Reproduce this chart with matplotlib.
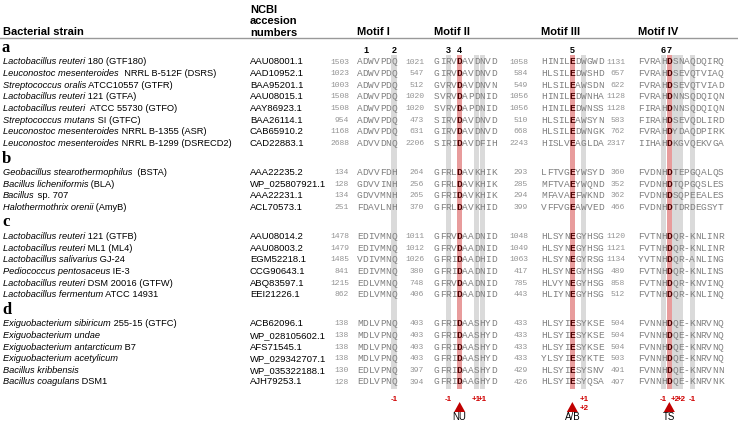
import numpy as np
import matplotlib.pyplot as plt

# ---- data -------------------------------------------------------------
group_labels = ['a', 'b', 'c', 'd']
group_sizes = [8, 4, 6, 6]

species = [
    'Lactobacillus reuteri', 'Leuconostoc mesenteroides', 'Streptococcus oralis',
    'Lactobacillus reuteri', 'Lactobacillus reuteri', 'Streptococcus mutans',
    'Leuconostoc mesenteroides', 'Leuconostoc mesenteroides',
    'Geobacillus stearothermophilus', 'Bacillus licheniformis', 'Bacillus',
    'Halothermothrix orenii',
    'Lactobacillus reuteri', 'Lactobacillus reuteri', 'Lactobacillus salivarius',
    'Pediococcus pentosaceus', 'Lactobacillus reuteri', 'Lactobacillus fermentum',
    'Exiguobacterium sibiricum', 'Exiguobacterium undae', 'Exiguobacterium antarcticum',
    'Exiguobacterium acetylicum', 'Bacillus kribbensis', 'Bacillus coagulans',
]
strains = [
    ' 180 (GTF180)', '  NRRL B-512F (DSRS)', ' ATCC10557 (GTFR)', ' 121 (GTFA)',
    '  ATCC 55730 (GTFO)', ' SI (GTFC)', ' NRRL B-1355 (ASR)', ' NRRL B-1299 (DSRECD2)',
    '  (BSTA)', ' (BLA)', ' sp. 707', ' (AmyB)',
    ' 121 (GTFB)', ' ML1 (ML4)', ' GJ-24', ' IE-3', ' DSM 20016 (GTFW)', ' ATCC 14931',
    ' 255-15 (GTFC)', '', ' B7', '', '', ' DSM1',
]
accessions = [
    'AAU08001.1', 'AAD10952.1', 'BAA95201.1', 'AAU08015.1', 'AAY86923.1',
    'BAA26114.1', 'CAB65910.2', 'CAD22883.1',
    'AAA22235.2', 'WP_025807921.1', 'AAA22231.1', 'ACL70573.1',
    'AAU08014.2', 'AAU08003.2', 'EGM52218.1', 'CCG90643.1', 'ABQ83597.1', 'EEI21226.1',
    'ACB62096.1', 'WP_028105602.1', 'AFS71545.1', 'WP_029342707.1', 'WP_035322188.1',
    'AJH79253.1',
]

start_I = [1503, 1023, 1003, 1508, 1508, 954, 1168, 2688, 134, 128, 134, 251,
           1478, 1479, 1485, 841, 1215, 862, 138, 138, 138, 138, 130, 128]
seq_I = ['ADWVPDQ', 'ADWVPDQ', 'ADWVPDQ', 'ADWVPDQ', 'ADWVPDQ', 'ADWVPDQ', 'ADWVPDQ',
         'ADVVDNQ', 'ADVVFDH', 'GDVVINH', 'GDVVMNH', 'FDAVLNH',
         'EDIVMNQ', 'EDIVMNQ', 'VDIVMNQ', 'EDIVMNQ', 'EDLVMNQ', 'EDLVMNQ',
         'MDLVPNQ', 'MDLVPNQ', 'MDLVPNQ', 'MDLVPNQ', 'EDLVPNQ', 'EDLVPNQ']

start_II = [1021, 547, 512, 1020, 1020, 473, 631, 2206, 264, 256, 265, 370,
            1011, 1012, 1026, 380, 748, 406, 403, 403, 403, 403, 397, 394]
seq_II = ['GIRVDAVDNVD', 'GIRVDAVDNVD', 'GVRVDAVDNVN', 'SVRVDAPDNID', 'SVRVDAPDNID',
          'SIRVDAVDNVD', 'GIRVDAVDNVD', 'SIRIDAVDFIH',
          'GFRLDAVKHIK', 'GFRLDAVKHIK', 'GFRIDAVKHIK', 'GFRLDAVKHID',
          'GFRVDAADNID', 'GFRVDAADNID', 'GFRIDAADHID', 'GFRIDAADNID', 'GFRVDAADNID',
          'GFRIDAADNID',
          'GFRIDAASHYD', 'GFRIDAASHYD', 'GFRIDAASHYD', 'GFRIDAASHYD', 'GFRIDAASHYD',
          'GFRIDAAGHYD']

start_III = [1058, 584, 549, 1056, 1056, 510, 668, 2243, 293, 285, 294, 399,
             1048, 1049, 1063, 417, 785, 443, 433, 433, 433, 433, 429, 426]
seq_III = ['HINILEDWGWD', 'HLSILEDWSHD', 'HLSILEAWSDN', 'HINILEDWNHA', 'HINILEDWNSS',
           'HLSILEAWSYN', 'HLSILEDWNGK', 'HISLVEAGLDA',
           'LFTVGEYWSYD', 'MFTVAEYWQND', 'MFAVAEFWKND', 'VFFVGEAWVED',
           'HLSYNEGYHSG', 'HLSYNEGYHSG', 'HLSYNEGYRSG', 'HLSYNEGYHSG', 'HLVYNEGYHSG',
           'HLIYNEGYHSG',
           'HLSYIESYKSE', 'HLSYIESYKSE', 'HLSYIESYKSE', 'YLSYIESYKTE', 'HLSYIESYSNV',
           'HLSYIESYQSA']

start_IV = [1131, 657, 622, 1128, 1128, 583, 762, 2317, 360, 352, 362, 466,
            1120, 1121, 1134, 489, 858, 512, 504, 504, 504, 503, 491, 497]
seq_IV = ['FVRAHDSNAQDQIRQ', 'FVRAHDSEVQTVIAQ', 'FVRAHDSEVQTVIAD', 'FVRAHDNNSQDQIQN',
          'FIRAHDNNSQDQIQN', 'FIRAHDSEVQDLIRD', 'FVRAHDYDAQDPIRK', 'IIHAHDKGVQEKVGA',
          'FVDNHDTEPGQALQS', 'FVDNHDTQPGQSLES', 'FVDNHDSQPEEALES', 'FVDNHDTDRDEGSYT',
          'FVTNHDQR-KNLINR', 'FVTNHDQR-KNLINR', 'YVTNHDQR-ANLING', 'FVTNHDQR-KNLINS',
          'FVTNHDQR-KNVINQ', 'FVTNHDQR-KNLINQ',
          'FVNNHDQE-KNRVNQ', 'FVNNHDQE-KNRVNQ', 'FVNNHDQE-KNRVNQ', 'FVNNHDQE-KNRVNQ',
          'FVNNHDQE-KNRVNN', 'FVNNHDQE-KNRVNK']

motif_names = ['Motif I', 'Motif II', 'Motif III', 'Motif IV']
gray_cols = [[6], [2, 7, 8], [7], [4, 6, 7, 9]]
red_cols = [[], [4], [5], [5]]
site_numbers = [[('1', 1), ('2', 6)], [('3', 2), ('4', 4)], [('5', 5)], [('6', 4), ('7', 5)]]
shift_labels = [[('-1', 6, 0)], [('-1', 2, 0), ('+1', 7, 0), ('+1', 8, 0)],
                [('+1', 7, 0), ('+2', 7, 1)],
                [('-1', 4, 0), ('+2', 6, 0), ('+2', 7, 0), ('-1', 9, 0)]]
site_names = ['', 'NU', 'A/B', 'TS']

# ---- layout -------------------------------------------------------------
motif_x = [357, 434, 541, 638]
num_right = [349, 424, 528, 625]
cw = 5.7
sans = 'Liberation Sans'
mono = 'Liberation Mono'

fig = plt.figure(figsize=(7.38, 4.22), dpi=100)
ax = fig.add_axes([0, 0, 1, 1])
ax.set_xlim(0, 738)
ax.set_ylim(422, 0)
ax.axis('off')
renderer = fig.canvas.get_renderer()

row_y = []
letter_y = []
y = 48
for g, n in enumerate(group_sizes):
    if g > 0:
        y = row_y[-1] + 15
    letter_y.append(y)
    y += 14
    for i in range(n):
        row_y.append(y + i * 11.65)

col_top, col_bot = 55, 389

# highlighted columns
for m in range(4):
    gx = [motif_x[m] + (c + 0.5) * cw for c in gray_cols[m]]
    rx = [motif_x[m] + (c + 0.5) * cw for c in red_cols[m]]
    ax.bar(gx, col_bot - col_top, width=cw * 0.92, bottom=col_top, color='#dadada', zorder=0)
    if rx:
        ax.bar(rx, col_bot - col_top, width=cw * 0.95, bottom=col_top, color='#e89c9c', zorder=0)

# header
ax.text(3, 32, 'Bacterial strain', fontsize=8, fontweight='bold', family=sans, va='center')
ax.text(250, 37.5, 'NCBI\naccesion\nnumbers', fontsize=8, fontweight='bold', family=sans,
        va='bottom', linespacing=1.15)
for m in range(4):
    ax.text(motif_x[m], 32, motif_names[m], fontsize=8, fontweight='bold', family=sans, va='center')
    for lab, c in site_numbers[m]:
        ax.text(motif_x[m] + (c + 0.5) * cw, 50.5, lab, fontsize=6.5, fontweight='bold',
                family=sans, ha='center', va='center')
ax.plot([0, 738], [37.5, 37.5], color='#999999', lw=1)

for g in range(4):
    ax.text(2, letter_y[g], group_labels[g], fontsize=12, fontweight='bold',
            family='Liberation Serif', va='center')

# rows
seqs = [seq_I, seq_II, seq_III, seq_IV]
starts = [start_I, start_II, start_III, start_IV]
for r, yy in enumerate(row_y):
    t = ax.text(3, yy, species[r], fontsize=6.7, style='italic', family=sans, va='center')
    bb = t.get_window_extent(renderer)
    ax.text(bb.x1, yy, strains[r], fontsize=6.7, family=sans, va='center')
    ax.text(250, yy, accessions[r], fontsize=6.8, family=sans, va='center')
    for m in range(4):
        ax.text(num_right[m], yy, str(starts[m][r]), fontsize=5.8, family=mono,
                color='#939393', ha='right', va='center')
        for c, ch in enumerate(seqs[m][r]):
            xc = motif_x[m] + (c + 0.5) * cw
            if c in red_cols[m]:
                ax.text(xc, yy, ch, fontsize=6.8, family=mono, fontweight='bold',
                        color='#4a0000', ha='center', va='center')
            else:
                ax.text(xc, yy, ch, fontsize=6.8, family=mono, color='#808080',
                        ha='center', va='center')

# bottom annotations
for m in range(4):
    for lab, c, line in shift_labels[m]:
        ax.text(motif_x[m] + (c + 0.5) * cw, 399.5 + line * 9, lab, fontsize=5.8,
                fontweight='bold', color='#d00000', family=sans, ha='center', va='center')
    for c in red_cols[m]:
        xc = motif_x[m] + (c + 0.5) * cw
        ax.fill([xc - 5.5, xc + 5.5, xc], [412, 412, 402], color='#c00000', lw=0)
        ax.text(xc, 417.5, site_names[m], fontsize=7, family=sans, ha='center', va='center')

fig.savefig('out.png', dpi=100)
